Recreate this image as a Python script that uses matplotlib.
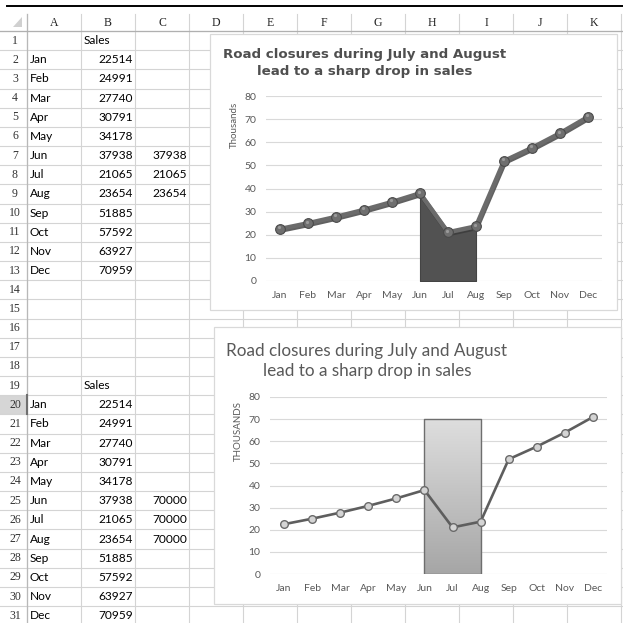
import numpy as np
import matplotlib
matplotlib.use("Agg")
import matplotlib.pyplot as plt
from matplotlib.patches import Rectangle, Polygon
from matplotlib import patheffects as pe

# Sheet data
months = ["Jan", "Feb", "Mar", "Apr", "May", "Jun",
          "Jul", "Aug", "Sep", "Oct", "Nov", "Dec"]
sales = [22514, 24991, 27740, 30791, 34178, 37938,
         21065, 23654, 51885, 57592, 63927, 70959]
# column C, top table (area follows the line)
highlight_top = [None, None, None, None, None, 37938,
                 21065, 23654, None, None, None, None]
# column C, bottom table (flat band)
highlight_bottom = [None, None, None, None, None, 70000,
                    70000, 70000, None, None, None, None]
col_letters = ["A", "B", "C", "D", "E", "F", "G", "H", "I", "J", "K"]
title = "Road closures during July and August\nlead to a sharp drop in sales"

W = H = 623
fig = plt.figure(figsize=(W / 100, H / 100), dpi=100)
fig.patch.set_facecolor("white")

# ---------- spreadsheet background (pixel coordinates) ----------
bg = fig.add_axes([0, 0, 1, 1])
bg.set_xlim(0, W)
bg.set_ylim(H, 0)
bg.axis("off")

grid_c = "#d4d4d4"
row_h = 19.17
row0 = 31.0
col_w = 54.0
col0 = 27.0

def row_y(r):  # centre of sheet row r (1-based)
    return row0 + (r - 0.5) * row_h

# selected row header
bg.add_patch(Rectangle((0, row0 + 19 * row_h), col0, row_h,
                       facecolor="#d6d6d6", edgecolor="none", zorder=1))
bg.plot([col0, col0], [row0 + 19 * row_h, row0 + 20 * row_h],
        color="#6f6f6f", lw=1.5, zorder=3)

# horizontal grid lines
for r in range(0, 33):
    y = row0 + r * row_h
    bg.plot([0, W], [y, y], color=grid_c, lw=0.8, zorder=2)
# vertical grid lines
for c in range(0, len(col_letters) + 1):
    x = col0 + c * col_w
    bg.plot([x, x], [14, H], color=grid_c, lw=0.8, zorder=2)
bg.plot([col0, col0], [14, H], color="#b8b8b8", lw=0.9, zorder=2)
bg.plot([0, W], [row0, row0], color="#b0b0b0", lw=0.9, zorder=2)

# top black rule
bg.plot([7, W], [6, 6], color="black", lw=1.4, zorder=3)
# corner triangle
bg.add_patch(Polygon([[22, 17], [22, 27], [13, 27]], closed=True,
                     facecolor="#d0d0d0", edgecolor="none", zorder=3))

serif = "Liberation Serif"
cellf = "Lato"
for i, L in enumerate(col_letters):
    bg.text(col0 + (i + 0.5) * col_w, 22.5, L, ha="center", va="center",
            fontsize=8.5, family=serif, color="#222222", zorder=4)
for r in range(1, 32):
    bg.text(15, row_y(r), str(r), ha="center", va="center",
            fontsize=8.5, family=serif, color="#333333", zorder=4)

def table(start_row, extra):
    bg.text(col0 + col_w + 3, row_y(start_row), "Sales", ha="left",
            va="center", fontsize=8.6, family=cellf, color="black", zorder=4)
    for k, (m, v, e) in enumerate(zip(months, sales, extra)):
        y = row_y(start_row + 1 + k)
        bg.text(col0 + 3, y, m, ha="left", va="center", fontsize=8.6,
                family=cellf, color="black", zorder=4)
        bg.text(col0 + 2 * col_w - 2, y, str(v), ha="right", va="center",
                fontsize=8.6, family=cellf, color="black", zorder=4)
        if e is not None:
            bg.text(col0 + 3 * col_w - 2, y, str(e), ha="right", va="center",
                    fontsize=8.6, family=cellf, color="black", zorder=4)

table(1, highlight_top)
table(19, highlight_bottom)

# chart frames
bg.add_patch(Rectangle((210, 34), 407, 276, facecolor="white",
                       edgecolor="#d9d9d9", lw=0.9, zorder=5))
bg.add_patch(Rectangle((214, 327), 407, 277, facecolor="white",
                       edgecolor="#d9d9d9", lw=0.9, zorder=5))


def chart_axes(left, right, top, bottom):
    ax = fig.add_axes([left / W, 1 - bottom / H, (right - left) / W,
                       (bottom - top) / H])
    ax.set_facecolor("none")
    ax.set_xlim(-0.5, len(months) - 0.5)
    ax.set_ylim(0, 80)
    ax.set_yticks(range(0, 81, 10))
    ax.set_xticks(range(len(months)))
    ax.set_xticklabels(months)
    for s in ax.spines.values():
        s.set_visible(False)
    ax.grid(axis="y", color="#d9d9d9", lw=0.8)
    ax.set_axisbelow(True)
    ax.tick_params(length=0, colors="#595959", labelsize=7.5, pad=7)
    for lab in ax.get_xticklabels() + ax.get_yticklabels():
        lab.set_family(cellf)
    return ax


x = np.arange(len(months))
y = np.array(sales) / 1000.0

# ---------- chart 1 ----------
ax1 = chart_axes(266, 602, 96, 281)
h1 = np.array([np.nan if v is None else v / 1000.0 for v in highlight_top])
m1 = ~np.isnan(h1)
ax1.fill_between(x[m1], 0, h1[m1], color="#525252", edgecolor="#444444",
                 lw=0.8, zorder=2)
ax1.plot(x[m1], h1[m1] - 0.6, color="#7a7a7a", lw=1.5, zorder=2.5)
ax1.plot(x, y, color="#6b6b6b", lw=3.2, zorder=3,
         path_effects=[pe.SimpleLineShadow(offset=(0.6, -1.2),
                                           shadow_color="#3a3a3a", alpha=0.8),
                       pe.Normal()])
ax1.plot(x, y, ls="none", marker="o", ms=7, mfc="#6f6f6f", mec="#4a4a4a",
         mew=0.8, zorder=4)
ax1.plot(x - 0.05, y + 0.7, ls="none", marker="o", ms=2.3, mfc="#9a9a9a",
         mec="none", zorder=5)
ax1.set_ylabel("Thousands", family=cellf, fontsize=7, color="#595959")
ax1.yaxis.set_label_coords(-0.08, 0.843)
fig.text(365 / W, 1 - 63 / H, title, ha="center", va="center",
         fontsize=9.6, fontweight="bold", family="DejaVu Sans",
         color="#4f4f4f", linespacing=1.45)

# ---------- chart 2 ----------
ax2 = chart_axes(270, 607, 397, 574)
h2 = np.array([np.nan if v is None else v / 1000.0 for v in highlight_bottom])
m2 = ~np.isnan(h2)
band = ax2.fill_between(x[m2], 0, h2[m2], facecolor="none",
                        edgecolor="#6e6e6e", lw=1.0, zorder=2.5)
grad = np.linspace(0, 1, 256).reshape(-1, 1)
cmap = matplotlib.colors.LinearSegmentedColormap.from_list(
    "g", ["#dedede", "#a6a6a6"])
img = ax2.imshow(grad, cmap=cmap, aspect="auto", zorder=2,
                 extent=[x[m2].min(), x[m2].max(), 0, np.nanmax(h2)])
img.set_clip_path(band.get_paths()[0], transform=ax2.transData)
ax2.set_xlim(-0.5, len(months) - 0.5)
ax2.set_ylim(0, 80)
ax2.plot(x, y, color="#5e5e5e", lw=1.9, zorder=3, marker="o", ms=5.5,
         mfc="#d4d4d4", mec="#6a6a6a", mew=1.0)
ax2.set_ylabel("THOUSANDS", family=cellf, fontsize=7, color="#595959")
ax2.yaxis.set_label_coords(-0.08, 0.81)
fig.text(367 / W, 1 - 361 / H, title, ha="center", va="center",
         fontsize=12.3, family=cellf, color="#595959", linespacing=1.3)

fig.savefig("out.png", dpi=100)
